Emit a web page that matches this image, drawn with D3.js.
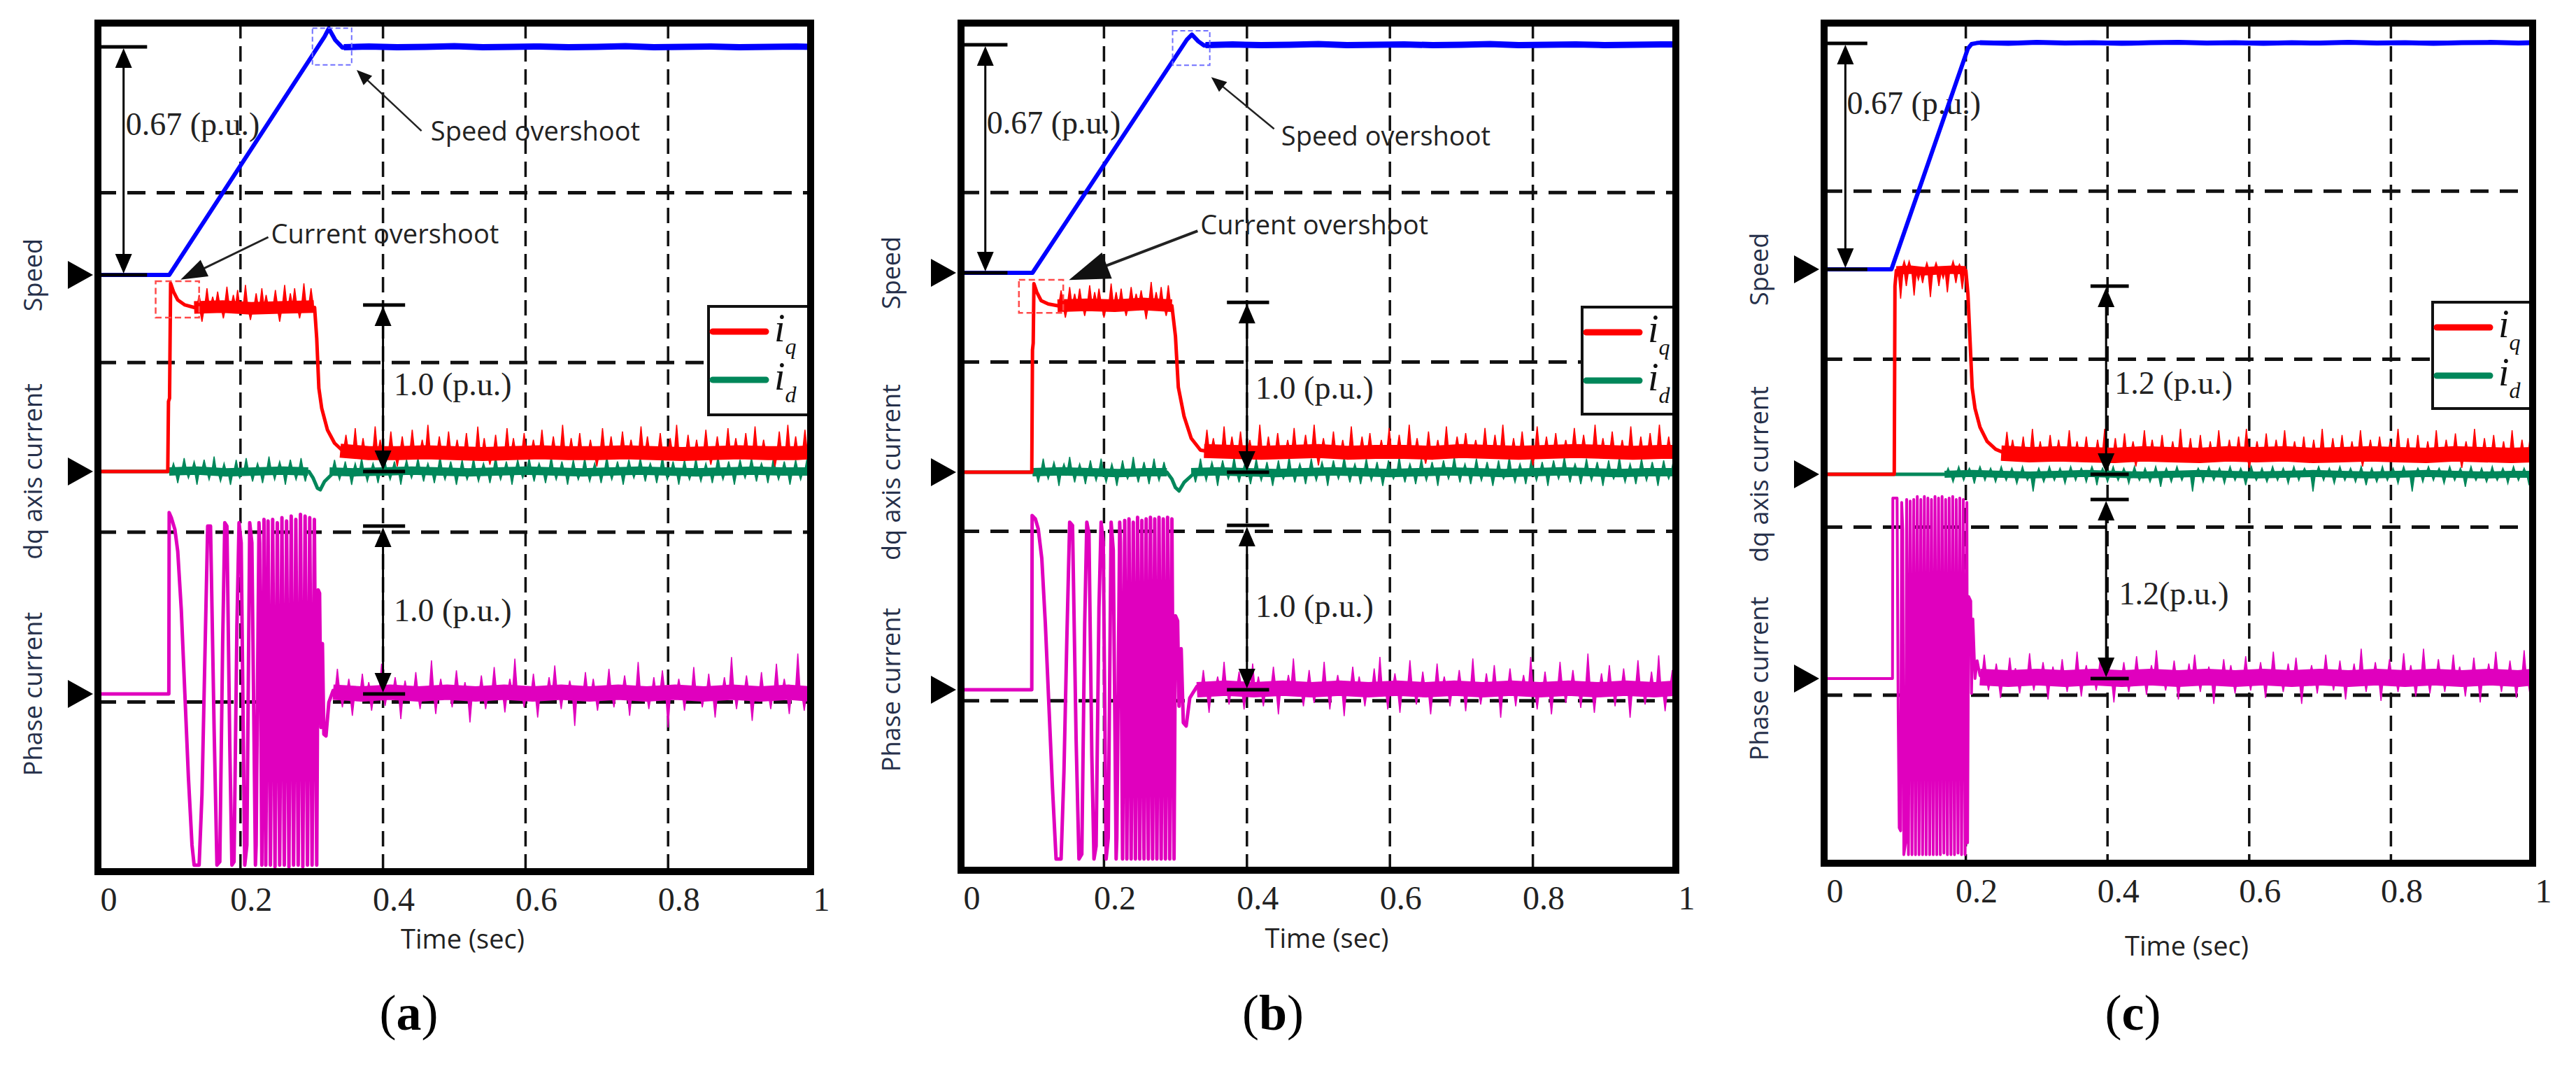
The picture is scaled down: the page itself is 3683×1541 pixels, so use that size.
<!DOCTYPE html>
<html lang="en">
<head>
<meta charset="UTF-8" />
<title>Speed, dq axis current and phase current</title>
<script src="https://cdn.jsdelivr.net/npm/d3@7"></script>
<style>
  html, body { margin: 0; padding: 0; background: #fff; }
  svg { display: block; }
</style>
</head>
<body>
<svg width="3683" height="1541"></svg>
<script>
// ---------- data (time in sec, values in p.u.) ----------
const timeTicks = [0, 0.2, 0.4, 0.6, 0.8, 1];
const timeTickLabels = ["0", "0.2", "0.4", "0.6", "0.8", "1"];
const gridTimes = [0.2, 0.4, 0.6, 0.8];
const gridDivs = [1, 2, 3, 4];
const channelNames = ["Speed", "dq axis current", "Phase current"];
const panelLetters = ["a", "b", "c"];
const legendNames = [["i", "q"], ["i", "d"]];
const dimTextA = ["0.67 (p.u.)", "1.0 (p.u.)", "1.0 (p.u.)"];
const dimTextB = ["0.67 (p.u.)", "1.0 (p.u.)", "1.0 (p.u.)"];
const dimTextC = ["0.67 (p.u.)", "1.2 (p.u.)", "1.2(p.u.)"];
const dimValuesA = [0.67, 1.0, 1.0];
const dimValuesB = [0.67, 1.0, 1.0];
const dimValuesC = [0.67, 1.2, 1.2];
const noteTexts = ["Speed overshoot", "Current overshoot"];

// ---- panel (a) ----
const speedA = [[0,0],[0.1,0],[0.318,0.70],[0.324,0.724],[0.333,0.69],[0.343,0.668],[0.36,0.67],[1,0.67]];
const speedBandA = [[0.345,0.669],[0.38,0.671],[0.42,0.669],[0.46,0.670],[0.50,0.672],[0.54,0.669],[0.58,0.670],[0.62,0.671],[0.66,0.669],[0.70,0.670],[0.74,0.672],[0.78,0.669],[0.82,0.670],[0.86,0.671],[0.90,0.669],[0.94,0.670],[0.98,0.671],[1.0,0.670]];
const iqA = [[0,0],[0.098,0],[0.099,0.42],[0.1005,0.44],[0.102,1.13],[0.106,1.08],[0.112,1.03],[0.122,1.0],[0.135,0.985],[0.304,0.985],[0.307,0.8],[0.31,0.5],[0.314,0.38],[0.322,0.25],[0.332,0.17],[0.342,0.13],[0.36,0.11],[1,0.11]];
const iqPlateauA = [[0.135,0.985],[0.175,0.99],[0.215,0.98],[0.255,0.985],[0.303,0.99]];
const iqSteadyA = [[0.34,0.125],[0.38,0.11],[0.42,0.11],[0.46,0.115],[0.50,0.11],[0.54,0.105],[0.58,0.11],[0.62,0.115],[0.66,0.11],[0.70,0.11],[0.74,0.115],[0.78,0.11],[0.82,0.105],[0.86,0.11],[0.90,0.115],[0.94,0.11],[0.98,0.11],[1.0,0.115]];
const iqSpikesA = [[0.142,1.06],[0.146,0.9],[0.153,1.1],[0.161,1.05],[0.168,1.08],[0.176,0.92],[0.181,1.11],[0.19,1.06],[0.196,1.09],[0.207,1.12],[0.214,0.91],[0.222,1.07],[0.23,1.1],[0.236,1.06],[0.249,1.09],[0.255,0.9],[0.262,1.12],[0.27,1.07],[0.276,1.1],[0.283,0.92],[0.289,1.13],[0.299,1.1],
  [0.348,0.22],[0.361,0.26],[0.372,0.2],[0.389,0.27],[0.396,0.19],[0.411,0.24],[0.42,0.03],[0.427,0.21],[0.441,0.25],[0.455,0.19],[0.463,0.28],[0.479,0.21],[0.492,0.24],[0.504,0.19],[0.517,0.23],[0.533,0.27],[0.542,0.2],[0.55,0.04],[0.558,0.22],[0.574,0.26],[0.583,0.2],[0.598,0.23],[0.611,0.19],[0.623,0.25],[0.639,0.21],[0.652,0.28],[0.664,0.2],[0.676,0.23],[0.691,0.19],[0.70,0.03],[0.708,0.26],[0.72,0.21],[0.736,0.24],[0.748,0.19],[0.762,0.27],[0.771,0.21],[0.789,0.23],[0.803,0.2],[0.812,0.28],[0.828,0.22],[0.84,0.19],[0.853,0.25],[0.86,0.04],[0.869,0.21],[0.884,0.26],[0.895,0.2],[0.909,0.23],[0.922,0.27],[0.934,0.19],[0.95,0.03],[0.956,0.24],[0.968,0.28],[0.979,0.21],[0.992,0.25]];
const idA = [[0,0],[0.1,0],[0.296,0],[0.302,-0.04],[0.308,-0.1],[0.312,-0.11],[0.318,-0.06],[0.33,-0.01],[1,0]];
const idBandA1 = [[0.1,0],[0.14,0.005],[0.18,-0.005],[0.22,0],[0.26,0.005],[0.295,0]];
const idBandA2 = [[0.325,0],[0.36,-0.005],[0.40,0],[0.44,0.005],[0.48,0],[0.52,-0.005],[0.56,0],[0.60,0.005],[0.64,0],[0.68,-0.005],[0.72,0],[0.76,0.005],[0.80,0],[0.84,-0.005],[0.88,0],[0.92,0.005],[0.96,0],[1.0,0]];
const idSpikesA = [[0.106,0.05],[0.112,-0.07],[0.121,0.08],[0.127,-0.04],[0.135,0.06],[0.139,-0.08],[0.149,0.07],[0.156,-0.05],[0.163,0.09],[0.172,-0.06],[0.177,0.05],[0.186,-0.08],[0.194,0.07],[0.199,-0.04],[0.208,0.08],[0.217,-0.06],[0.224,0.05],[0.231,-0.07],[0.24,0.09],[0.248,-0.05],[0.255,0.06],[0.263,-0.08],[0.27,0.07],[0.278,-0.05],[0.285,0.08],[0.291,-0.06],
  [0.332,0.07],[0.339,-0.05],[0.347,0.06],[0.356,-0.08],[0.361,0.05],[0.37,0.08],[0.378,-0.06],[0.386,0.05],[0.393,-0.07],[0.402,0.09],[0.41,-0.05],[0.416,0.06],[0.425,-0.08],[0.433,0.07],[0.44,-0.04],[0.449,0.08],[0.457,-0.06],[0.463,0.05],[0.472,-0.07],[0.48,0.09],[0.487,-0.05],[0.495,0.06],[0.503,-0.08],[0.511,0.07],[0.518,-0.05],[0.527,0.08],[0.534,-0.06],[0.541,0.05],[0.55,-0.07],[0.558,0.09],[0.565,-0.05],[0.573,0.06],[0.581,-0.08],[0.589,0.07],[0.596,-0.04],[0.605,0.08],[0.612,-0.06],[0.619,0.05],[0.628,-0.07],[0.636,0.09],[0.643,-0.05],[0.651,0.06],[0.659,-0.08],[0.667,0.07],[0.674,-0.05],[0.683,0.08],[0.69,-0.06],[0.697,0.05],[0.706,-0.07],[0.714,0.09],[0.721,-0.05],[0.729,0.06],[0.737,-0.08],[0.745,0.07],[0.752,-0.04],[0.761,0.08],[0.768,-0.06],[0.775,0.05],[0.784,-0.07],[0.792,0.09],[0.799,-0.05],[0.807,0.06],[0.815,-0.08],[0.823,0.07],[0.83,-0.05],[0.839,0.08],[0.846,-0.06],[0.853,0.05],[0.862,-0.07],[0.87,0.09],[0.877,-0.05],[0.885,0.06],[0.893,-0.08],[0.901,0.07],[0.908,-0.04],[0.917,0.08],[0.924,-0.06],[0.931,0.05],[0.94,-0.07],[0.948,0.09],[0.955,-0.05],[0.963,0.06],[0.971,-0.08],[0.979,0.07],[0.986,-0.05],[0.995,0.08]];
const phaseA = [[0,0],[0.0995,0],[0.1,1.08],[0.103,1.05],[0.108,0.98],[0.112,0.85],[0.117,0.5],[0.122,0.0],[0.127,-0.5],[0.132,-0.9],[0.135,-1.02],[0.142,-1.02],[0.146,-0.6],[0.150,0.2],[0.154,1.0],[0.158,1.0],[0.163,-0.2],[0.167,-1.02],[0.171,-1.0],[0.175,0.3],[0.178,1.02],[0.181,1.0],[0.185,-0.3],[0.188,-1.02],[0.191,-1.0],[0.195,0.4],[0.198,1.02],[0.201,0.9],[0.206,-1.02],[0.209,-0.9],[0.213,1.02],[0.216,0.9],[0.221,-1.02],[0.222,-0.9],[0.226,1.02],[0.227,0.9],[0.230,-1.02],[0.233,1.04],[0.2355,-1.02],[0.2387,1.03],[0.242,-1.02],[0.2452,1.04],[0.2485,-1.03],[0.2517,1.02],[0.255,-1.02],[0.2582,1.05],[0.2615,-1.02],[0.2647,1.03],[0.268,-1.03],[0.2712,1.06],[0.2745,-1.02],[0.2777,1.04],[0.281,-1.02],[0.2842,1.07],[0.2875,-1.03],[0.2907,1.06],[0.294,-1.02],[0.2972,1.05],[0.3005,-1.02],[0.3037,1.04],[0.307,-1.02],[0.309,0.62],[0.311,0.6],[0.313,-0.2],[0.315,0.3],[0.317,-0.24],[0.32,-0.25],[0.324,-0.05],[0.33,0.02],[0.34,0.0],[1,0]];
const phaseBandA = [[0.33,0.01],[0.37,0.0],[0.41,0.01],[0.45,0.0],[0.49,0.01],[0.53,0.0],[0.57,0.01],[0.61,0.0],[0.65,0.01],[0.69,0.0],[0.73,0.01],[0.77,0.0],[0.81,0.01],[0.85,0.0],[0.89,0.01],[0.93,0.0],[0.97,0.01],[1.0,0.0]];
const phaseSpikesA = [[0.336,0.15],[0.343,-0.08],[0.352,0.09],[0.357,-0.13],[0.371,0.12],[0.38,0.07],[0.384,-0.1],[0.398,0.18],[0.403,-0.07],[0.417,0.1],[0.425,-0.15],[0.431,0.08],[0.446,0.13],[0.452,-0.09],[0.468,0.2],[0.474,-0.12],[0.481,0.09],[0.497,-0.08],[0.503,0.14],[0.515,0.07],[0.522,-0.17],[0.538,0.11],[0.544,-0.09],[0.556,0.16],[0.571,-0.11],[0.578,0.09],[0.585,0.21],[0.598,-0.08],[0.611,0.12],[0.617,-0.14],[0.633,0.1],[0.641,0.17],[0.65,-0.09],[0.662,0.08],[0.669,-0.19],[0.684,0.13],[0.695,0.09],[0.701,-0.1],[0.717,0.15],[0.724,-0.08],[0.739,0.11],[0.746,-0.13],[0.758,0.19],[0.773,-0.09],[0.78,0.1],[0.792,0.14],[0.8,-0.2],[0.815,0.09],[0.823,-0.1],[0.836,0.16],[0.848,-0.08],[0.857,0.12],[0.866,-0.14],[0.879,0.1],[0.889,0.22],[0.896,-0.09],[0.91,0.11],[0.918,-0.16],[0.931,0.13],[0.944,-0.09],[0.952,0.18],[0.963,0.09],[0.97,-0.12],[0.982,0.24],[0.991,-0.1]];

// ---- panel (b) ----
const speedB = [[0,0],[0.1,0],[0.316,0.685],[0.323,0.70],[0.332,0.68],[0.34,0.668],[0.36,0.67],[1,0.67]];
const speedBandB = [[0.342,0.669],[0.38,0.671],[0.42,0.669],[0.46,0.670],[0.50,0.672],[0.54,0.669],[0.58,0.670],[0.62,0.671],[0.66,0.669],[0.70,0.670],[0.74,0.672],[0.78,0.669],[0.82,0.670],[0.86,0.671],[0.90,0.669],[0.94,0.670],[0.98,0.671],[1.0,0.671]];
const iqB = [[0,0],[0.099,0],[0.1,0.72],[0.101,0.76],[0.102,1.11],[0.106,1.06],[0.112,1.01],[0.122,0.99],[0.135,0.98],[0.295,0.98],[0.3,0.8],[0.304,0.5],[0.312,0.33],[0.322,0.2],[0.335,0.13],[0.35,0.12],[1,0.12]];
const iqPlateauB = [[0.135,0.98],[0.175,0.985],[0.215,0.98],[0.255,0.99],[0.295,0.98]];
const iqSteadyB = [[0.34,0.125],[0.38,0.12],[0.42,0.115],[0.46,0.12],[0.50,0.125],[0.54,0.115],[0.58,0.12],[0.62,0.12],[0.66,0.115],[0.70,0.125],[0.74,0.12],[0.78,0.115],[0.82,0.12],[0.86,0.125],[0.90,0.12],[0.94,0.115],[0.98,0.12],[1.0,0.12]];
const iqSpikesB = [[0.14,1.07],[0.146,0.91],[0.152,1.09],[0.159,1.05],[0.166,1.08],[0.173,0.92],[0.18,1.1],[0.187,1.06],[0.193,1.08],[0.2,0.91],[0.21,1.11],[0.217,1.06],[0.224,1.08],[0.231,0.92],[0.238,1.09],[0.245,1.05],[0.252,1.07],[0.259,0.9],[0.266,1.12],[0.273,1.06],[0.28,1.09],[0.287,0.92],[0.29,1.1],
  [0.344,0.25],[0.353,0.2],[0.368,0.27],[0.379,0.21],[0.391,0.24],[0.404,0.19],[0.418,0.28],[0.43,0.21],[0.443,0.23],[0.457,0.19],[0.466,0.26],[0.482,0.22],[0.494,0.28],[0.50,0.04],[0.507,0.2],[0.521,0.24],[0.534,0.19],[0.546,0.27],[0.561,0.21],[0.572,0.23],[0.588,0.19],[0.599,0.26],[0.613,0.22],[0.627,0.28],[0.638,0.2],[0.65,0.05],[0.654,0.24],[0.667,0.19],[0.679,0.27],[0.694,0.21],[0.706,0.23],[0.72,0.19],[0.733,0.26],[0.747,0.22],[0.758,0.28],[0.773,0.2],[0.785,0.24],[0.80,0.04],[0.806,0.27],[0.819,0.21],[0.832,0.23],[0.846,0.19],[0.858,0.26],[0.871,0.22],[0.887,0.28],[0.898,0.2],[0.911,0.24],[0.925,0.19],[0.937,0.27],[0.951,0.21],[0.964,0.23],[0.977,0.28],[0.99,0.21]];
const idB = [[0,0],[0.1,0],[0.288,0],[0.295,-0.04],[0.3,-0.09],[0.305,-0.11],[0.312,-0.06],[0.325,-0.01],[1,0]];
const idBandB1 = [[0.1,0],[0.14,0.005],[0.18,0],[0.22,-0.005],[0.26,0],[0.288,0]];
const idBandB2 = [[0.322,0],[0.36,0.005],[0.40,0],[0.44,-0.005],[0.48,0],[0.52,0.005],[0.56,0],[0.60,-0.005],[0.64,0],[0.68,0.005],[0.72,0],[0.76,-0.005],[0.80,0],[0.84,0.005],[0.88,0],[0.92,-0.005],[0.96,0],[1.0,0]];
const idSpikesB = [[0.108,-0.06],[0.115,0.08],[0.122,-0.04],[0.13,0.06],[0.137,-0.08],[0.144,0.05],[0.152,0.09],[0.159,-0.06],[0.166,0.05],[0.174,-0.07],[0.181,0.07],[0.189,-0.05],[0.196,0.08],[0.203,-0.06],[0.211,0.05],[0.218,-0.08],[0.226,0.07],[0.233,-0.04],[0.241,0.09],[0.248,-0.06],[0.256,0.06],[0.263,-0.07],[0.27,0.08],[0.277,-0.05],[0.284,0.06],
  [0.328,-0.06],[0.335,0.08],[0.343,-0.05],[0.351,0.06],[0.359,-0.08],[0.366,0.07],[0.374,-0.04],[0.382,0.09],[0.389,-0.06],[0.397,0.05],[0.405,-0.07],[0.413,0.08],[0.42,-0.05],[0.428,0.06],[0.436,-0.08],[0.444,0.07],[0.451,-0.04],[0.459,0.09],[0.467,-0.06],[0.474,0.05],[0.482,-0.07],[0.49,0.08],[0.497,-0.05],[0.505,0.06],[0.513,-0.08],[0.521,0.07],[0.528,-0.04],[0.536,0.09],[0.544,-0.06],[0.551,0.05],[0.559,-0.07],[0.567,0.08],[0.574,-0.05],[0.582,0.06],[0.59,-0.08],[0.598,0.07],[0.605,-0.04],[0.613,0.09],[0.621,-0.06],[0.628,0.05],[0.636,-0.07],[0.644,0.08],[0.651,-0.05],[0.659,0.06],[0.667,-0.08],[0.675,0.07],[0.682,-0.04],[0.69,0.09],[0.698,-0.06],[0.705,0.05],[0.713,-0.07],[0.721,0.08],[0.728,-0.05],[0.736,0.06],[0.744,-0.08],[0.752,0.07],[0.759,-0.04],[0.767,0.09],[0.775,-0.06],[0.782,0.05],[0.79,-0.07],[0.798,0.08],[0.805,-0.05],[0.813,0.06],[0.821,-0.08],[0.829,0.07],[0.836,-0.04],[0.844,0.09],[0.852,-0.06],[0.859,0.05],[0.867,-0.07],[0.875,0.08],[0.882,-0.05],[0.89,0.06],[0.898,-0.08],[0.906,0.07],[0.913,-0.04],[0.921,0.09],[0.929,-0.06],[0.936,0.05],[0.944,-0.07],[0.952,0.08],[0.959,-0.05],[0.967,0.06],[0.975,-0.08],[0.983,0.07],[0.99,-0.04],[0.997,0.08]];
const phaseB = [[0,0],[0.099,0],[0.0995,1.06],[0.104,1.04],[0.108,0.98],[0.113,0.8],[0.118,0.4],[0.123,-0.1],[0.128,-0.6],[0.133,-1.03],[0.14,-1.03],[0.144,-0.5],[0.148,0.3],[0.152,1.02],[0.156,1.0],[0.161,-0.3],[0.165,-1.03],[0.169,-1.0],[0.173,0.4],[0.176,1.02],[0.179,0.95],[0.183,-0.4],[0.186,-1.03],[0.189,-0.95],[0.193,0.5],[0.196,1.02],[0.199,0.9],[0.203,-1.03],[0.206,-0.9],[0.21,1.02],[0.213,0.85],[0.217,-1.03],[0.218,-0.9],[0.222,1.02],[0.223,0.9],[0.226,-1.03],[0.229,1.03],[0.232,-1.03],[0.235,1.04],[0.238,-1.03],[0.241,1.02],[0.244,-1.03],[0.247,1.05],[0.25,-1.03],[0.253,1.03],[0.256,-1.03],[0.259,1.04],[0.262,-1.03],[0.265,1.05],[0.268,-1.03],[0.271,1.04],[0.274,-1.03],[0.277,1.05],[0.28,-1.03],[0.283,1.04],[0.286,-1.03],[0.289,1.05],[0.292,-1.03],[0.295,1.04],[0.298,-1.03],[0.3,0.45],[0.303,0.42],[0.305,-0.1],[0.308,0.25],[0.311,-0.2],[0.315,-0.22],[0.32,-0.05],[0.33,0.02],[0.34,0.0],[1,0]];
const phaseBandB = [[0.33,0.0],[0.37,0.01],[0.41,0.0],[0.45,0.01],[0.49,0.0],[0.53,0.01],[0.57,0.0],[0.61,0.01],[0.65,0.0],[0.69,0.01],[0.73,0.0],[0.77,0.01],[0.81,0.0],[0.85,0.01],[0.89,0.0],[0.93,0.01],[0.97,0.0],[1.0,0.01]];
const phaseSpikesB = [[0.339,0.12],[0.347,-0.14],[0.359,0.08],[0.368,0.17],[0.375,-0.09],[0.389,0.11],[0.396,-0.12],[0.408,0.16],[0.416,0.08],[0.423,-0.1],[0.437,0.14],[0.444,-0.15],[0.458,0.09],[0.465,0.19],[0.479,-0.1],[0.487,0.12],[0.494,-0.08],[0.508,0.17],[0.516,-0.12],[0.527,0.09],[0.536,-0.16],[0.548,0.14],[0.557,0.08],[0.565,-0.1],[0.578,0.13],[0.586,0.2],[0.597,-0.12],[0.607,0.1],[0.614,-0.14],[0.628,0.18],[0.637,-0.09],[0.646,0.11],[0.657,-0.15],[0.666,0.16],[0.676,0.08],[0.684,-0.1],[0.697,0.12],[0.706,-0.13],[0.716,0.19],[0.727,-0.09],[0.735,0.1],[0.746,0.15],[0.755,-0.17],[0.768,0.13],[0.776,-0.1],[0.787,0.09],[0.797,0.2],[0.806,-0.12],[0.817,0.11],[0.826,-0.15],[0.838,0.17],[0.846,-0.08],[0.856,0.12],[0.867,-0.11],[0.877,0.22],[0.886,-0.14],[0.896,0.1],[0.907,0.15],[0.915,-0.1],[0.927,0.13],[0.936,-0.17],[0.947,0.18],[0.957,-0.09],[0.966,0.11],[0.976,0.21],[0.985,-0.13],[0.995,0.12]];

// ---- panel (c) ----
const speedC = [[0,0],[0.095,0],[0.203,0.655],[0.208,0.668],[0.215,0.671],[0.22,0.672],[1,0.672]];
const speedBandC = [[0.22,0.672],[0.26,0.670],[0.30,0.673],[0.34,0.671],[0.38,0.672],[0.42,0.670],[0.46,0.672],[0.50,0.673],[0.54,0.671],[0.58,0.672],[0.62,0.670],[0.66,0.672],[0.70,0.671],[0.74,0.673],[0.78,0.671],[0.82,0.672],[0.86,0.670],[0.90,0.672],[0.94,0.673],[0.98,0.671],[1.0,0.672]];
const iqC = [[0,0],[0.099,0],[0.1,1.2],[0.102,1.3],[0.2,1.3],[0.203,1.15],[0.206,0.85],[0.209,0.55],[0.213,0.42],[0.22,0.3],[0.23,0.21],[0.242,0.16],[0.255,0.135],[1,0.13]];
const iqPlateauC = [[0.102,1.3],[0.122,1.305],[0.142,1.295],[0.162,1.3],[0.182,1.305],[0.2,1.3]];
const iqSteadyC = [[0.25,0.135],[0.29,0.125],[0.33,0.13],[0.37,0.125],[0.41,0.12],[0.45,0.13],[0.49,0.125],[0.53,0.12],[0.57,0.13],[0.61,0.125],[0.65,0.13],[0.69,0.12],[0.73,0.125],[0.77,0.13],[0.81,0.125],[0.85,0.12],[0.89,0.13],[0.93,0.125],[0.97,0.12],[1.0,0.125]];
const iqSpikesC = [[0.106,1.24],[0.108,1.12],[0.113,1.36],[0.116,1.2],[0.12,1.36],[0.127,1.14],[0.133,1.24],[0.139,1.22],[0.145,1.35],[0.15,1.13],[0.158,1.35],[0.162,1.2],[0.168,1.25],[0.174,1.16],[0.182,1.36],[0.186,1.22],[0.191,1.34],[0.195,1.18],
  [0.258,0.27],[0.266,0.22],[0.281,0.24],[0.294,0.29],[0.305,0.21],[0.319,0.25],[0.331,0.22],[0.346,0.28],[0.357,0.21],[0.37,0.24],[0.386,0.22],[0.396,0.29],[0.411,0.23],[0.424,0.26],[0.44,0.05],[0.436,0.21],[0.452,0.28],[0.463,0.22],[0.477,0.25],[0.492,0.21],[0.503,0.29],[0.517,0.23],[0.531,0.25],[0.545,0.21],[0.557,0.28],[0.572,0.22],[0.585,0.24],[0.6,0.04],[0.596,0.29],[0.611,0.21],[0.624,0.26],[0.638,0.22],[0.65,0.28],[0.664,0.21],[0.677,0.24],[0.691,0.22],[0.703,0.29],[0.718,0.23],[0.731,0.25],[0.745,0.21],[0.757,0.28],[0.76,0.05],[0.771,0.22],[0.784,0.24],[0.799,0.21],[0.81,0.29],[0.824,0.23],[0.838,0.25],[0.852,0.21],[0.864,0.28],[0.878,0.22],[0.891,0.26],[0.9,0.04],[0.906,0.21],[0.918,0.29],[0.932,0.23],[0.945,0.25],[0.959,0.21],[0.971,0.28],[0.985,0.22],[0.997,0.26]];
const idC = [[0,0],[0.17,0],[1,0]];
const idBandC = [[0.17,0],[0.21,0.005],[0.25,0],[0.29,-0.005],[0.33,0],[0.37,0.005],[0.41,0],[0.45,-0.005],[0.49,0],[0.53,0.005],[0.57,0],[0.61,-0.005],[0.65,0],[0.69,0.005],[0.73,0],[0.77,-0.005],[0.81,0],[0.85,0.005],[0.89,0],[0.93,-0.005],[0.97,0],[1.0,0]];
const idSpikesC = [[0.175,0.04],[0.182,-0.05],[0.19,0.05],[0.197,-0.04],[0.205,0.04],[0.212,-0.06],[0.22,0.05],[0.227,-0.04],[0.235,0.04],[0.242,-0.05],[0.25,0.05],[0.257,-0.04],[0.265,0.04],[0.272,-0.06],[0.28,0.05],[0.287,-0.04],[0.295,-0.11],[0.303,0.04],[0.31,-0.05],[0.318,0.05],[0.325,-0.04],[0.333,0.04],[0.34,-0.06],[0.348,0.05],[0.355,-0.04],[0.363,0.04],[0.37,-0.05],[0.378,0.05],[0.385,-0.07],[0.393,0.04],[0.4,-0.05],[0.408,0.05],[0.415,-0.04],[0.423,0.04],[0.43,-0.06],[0.438,0.05],[0.445,-0.04],[0.453,0.04],[0.46,-0.05],[0.468,0.05],[0.475,-0.08],[0.483,0.04],[0.49,-0.05],[0.498,0.05],[0.505,-0.04],[0.52,-0.11],[0.528,0.04],[0.535,-0.05],[0.543,0.05],[0.55,-0.04],[0.558,0.04],[0.565,-0.06],[0.573,0.05],[0.58,-0.04],[0.588,0.04],[0.595,-0.07],[0.603,0.05],[0.61,-0.04],[0.618,0.04],[0.625,-0.05],[0.633,0.05],[0.64,-0.04],[0.648,0.04],[0.655,-0.06],[0.663,0.05],[0.67,-0.04],[0.678,0.04],[0.69,-0.11],[0.698,0.05],[0.705,-0.04],[0.713,0.04],[0.72,-0.06],[0.728,0.05],[0.735,-0.04],[0.743,0.04],[0.75,-0.05],[0.758,0.05],[0.765,-0.07],[0.773,0.04],[0.78,-0.05],[0.788,0.05],[0.795,-0.04],[0.803,0.04],[0.81,-0.06],[0.818,0.05],[0.83,-0.11],[0.838,0.04],[0.845,-0.05],[0.853,0.05],[0.86,-0.04],[0.868,0.04],[0.875,-0.06],[0.883,0.05],[0.89,-0.04],[0.898,0.04],[0.905,-0.08],[0.913,0.05],[0.92,-0.04],[0.928,0.04],[0.935,-0.05],[0.943,0.05],[0.95,-0.04],[0.958,0.04],[0.965,-0.06],[0.973,0.05],[0.98,-0.04],[0.988,0.04],[0.995,-0.07]];
const phaseC = [[0,0],[0.0965,0],[0.097,1.21],[0.103,1.21],[0.1045,-0.2],[0.106,-1.0],[0.108,-1.02],[0.1095,1.18],[0.111,1.0],[0.1125,-1.18],[0.115,-1.1],[0.1165,1.2],[0.119,-1.18],[0.1215,1.19],[0.124,-1.18],[0.1265,1.2],[0.129,-1.18],[0.1315,1.22],[0.134,-1.18],[0.1365,1.2],[0.139,-1.18],[0.1415,1.22],[0.144,-1.18],[0.1465,1.21],[0.149,-1.18],[0.1515,1.2],[0.154,-1.18],[0.1565,1.22],[0.159,-1.18],[0.1615,1.21],[0.164,-1.18],[0.1665,1.22],[0.169,-1.17],[0.1715,1.2],[0.174,-1.18],[0.1765,1.21],[0.179,-1.18],[0.1815,1.22],[0.184,-1.18],[0.1865,1.2],[0.189,-1.17],[0.1915,1.21],[0.194,-1.18],[0.1965,1.2],[0.199,-1.18],[0.2015,1.18],[0.2025,-1.1],[0.204,0.55],[0.207,0.52],[0.208,-0.1],[0.21,0.4],[0.213,0.0],[0.216,0.12],[0.22,0.02],[0.225,0.0],[1,0]];
const phaseBandC = [[0.22,0.01],[0.26,0.0],[0.30,0.01],[0.34,0.0],[0.38,0.01],[0.42,0.0],[0.46,0.01],[0.50,0.0],[0.54,0.01],[0.58,0.0],[0.62,0.01],[0.66,0.0],[0.70,0.01],[0.74,0.0],[0.78,0.01],[0.82,0.0],[0.86,0.01],[0.90,0.0],[0.94,0.01],[0.98,0.0],[1.0,0.01]];
const phaseSpikesC = [[0.226,0.16],[0.232,-0.08],[0.243,0.1],[0.249,-0.13],[0.262,0.14],[0.27,0.07],[0.276,-0.1],[0.29,0.17],[0.296,-0.08],[0.309,0.11],[0.316,-0.14],[0.323,0.08],[0.336,0.13],[0.343,-0.09],[0.357,0.18],[0.363,-0.12],[0.37,0.09],[0.384,-0.08],[0.39,0.14],[0.402,0.07],[0.409,-0.16],[0.423,0.11],[0.43,-0.09],[0.441,0.15],[0.455,-0.11],[0.462,0.09],[0.469,0.19],[0.482,-0.08],[0.494,0.12],[0.5,-0.14],[0.515,0.1],[0.523,0.16],[0.531,-0.09],[0.543,0.08],[0.55,-0.17],[0.564,0.13],[0.574,0.09],[0.58,-0.1],[0.595,0.15],[0.602,-0.08],[0.616,0.11],[0.623,-0.13],[0.634,0.18],[0.648,-0.09],[0.655,0.1],[0.666,0.14],[0.674,-0.17],[0.688,0.09],[0.696,-0.1],[0.708,0.16],[0.719,-0.08],[0.728,0.12],[0.736,-0.14],[0.748,0.1],[0.758,0.2],[0.765,-0.09],[0.778,0.11],[0.786,-0.15],[0.798,0.13],[0.81,-0.09],[0.818,0.17],[0.828,0.09],[0.835,-0.12],[0.846,0.2],[0.855,-0.1],[0.867,0.13],[0.876,-0.09],[0.888,0.16],[0.897,0.08],[0.905,-0.12],[0.917,0.14],[0.926,-0.16],[0.938,0.1],[0.948,0.18],[0.956,-0.09],[0.968,0.12],[0.977,-0.13],[0.988,0.19],[0.996,-0.1]];

// ---------- layout ----------
const BLUE = "#0000ff", RED = "#ff0000", GREEN = "#00875a", MAGENTA = "#e000be";
const SERIF = "'Liberation Serif', 'Times New Roman', serif";
const SANS = "'Open Sans', 'Noto Sans', sans-serif";

const panels = [
  { key: "a", left: 140, right: 1159, top: 33, bottom: 1246, titleY: 1356, labelDx: -93,
    ch: [{ zero: 3.516, gain: 2.006 }, { zero: 2.358, gain: 0.981 }, { zero: 1.047, gain: 0.989 }],
    traces: [
      { ch: 0, color: BLUE, w: 6, pts: speedA, bands: [[speedBandA, 9]], spikes: [] },
      { ch: 1, color: GREEN, w: 5, pts: idA, bands: [[idBandA1, 12], [idBandA2, 12]], spikes: idSpikesA },
      { ch: 1, color: RED, w: 5, pts: iqA, bands: [[iqPlateauA, 18], [iqSteadyA, 20]], spikes: iqSpikesA },
      { ch: 2, color: MAGENTA, w: 5, pts: phaseA, bands: [[phaseBandA, 22]], spikes: phaseSpikesA }
    ],
    dims: [
      { ch: 0, t: 0.036, bar: [0.004, 0.069], tt: 0.039, tv: 0.411 },
      { ch: 1, t: 0.4, bar: [0.372, 0.431], tt: 0.415, tv: 0.458 },
      { ch: 2, t: 0.4, bar: [0.372, 0.431], tt: 0.415, tv: 0.432 }
    ],
    dimText: dimTextA, dimValues: dimValuesA,
    notes: [
      { tt: 0.467, tv: 0.395, from: [0.454, 0.423], to: [0.363, 0.602], head: [22, 9], sw: 2.5 },
      { tt: 0.243, tv: 0.092, from: [0.239, 0.111], to: [0.116, -0.014], head: [38, 13], sw: 3 }
    ],
    blueBox: { t: [0.301, 0.356], v: [0.617, 0.725] },
    redBox: { t: [0.081, 0.142], v: [0.924, 1.143] },
    legend: { w: 146, off: 405, h: 155 }
  },
  { key: "b", left: 1374, right: 2396, top: 33, bottom: 1244, titleY: 1355, labelDx: -100,
    ch: [{ zero: 3.526, gain: 2.009 }, { zero: 2.349, gain: 1.003 }, { zero: 1.065, gain: 0.970 }],
    traces: [
      { ch: 0, color: BLUE, w: 6, pts: speedB, bands: [[speedBandB, 9]], spikes: [] },
      { ch: 1, color: GREEN, w: 5, pts: idB, bands: [[idBandB1, 12], [idBandB2, 12]], spikes: idSpikesB },
      { ch: 1, color: RED, w: 5, pts: iqB, bands: [[iqPlateauB, 18], [iqSteadyB, 20]], spikes: iqSpikesB },
      { ch: 2, color: MAGENTA, w: 5, pts: phaseB, bands: [[phaseBandB, 22]], spikes: phaseSpikesB }
    ],
    dims: [
      { ch: 0, t: 0.034, bar: [0.001, 0.065], tt: 0.036, tv: 0.41 },
      { ch: 1, t: 0.4, bar: [0.372, 0.431], tt: 0.412, tv: 0.432 },
      { ch: 2, t: 0.4, bar: [0.372, 0.431], tt: 0.412, tv: 0.443 }
    ],
    dimText: dimTextB, dimValues: dimValuesB,
    notes: [
      { tt: 0.448, tv: 0.374, from: [0.438, 0.423], to: [0.35, 0.575], head: [22, 9], sw: 2.5 },
      { tt: 0.335, tv: 0.113, from: [0.331, 0.123], to: [0.151, -0.021], head: [58, 20], sw: 4 }
    ],
    blueBox: { t: [0.296, 0.348], v: [0.61, 0.711] },
    redBox: { t: [0.081, 0.143], v: [0.938, 1.132] },
    legend: { w: 134, off: 406, h: 153 }
  },
  { key: "c", left: 2608, right: 3621, top: 33, bottom: 1234, titleY: 1366, labelDx: -93,
    ch: [{ zero: 3.535, gain: 2.006 }, { zero: 2.315, gain: 0.933 }, { zero: 1.099, gain: 0.888 }],
    traces: [
      { ch: 0, color: BLUE, w: 6, pts: speedC, bands: [[speedBandC, 7]], spikes: [] },
      { ch: 1, color: GREEN, w: 5, pts: idC, bands: [[idBandC, 10]], spikes: idSpikesC },
      { ch: 1, color: RED, w: 5, pts: iqC, bands: [[iqPlateauC, 12], [iqSteadyC, 22]], spikes: iqSpikesC },
      { ch: 2, color: MAGENTA, w: 4, pts: phaseC, bands: [[phaseBandC, 24]], spikes: phaseSpikesC }
    ],
    dims: [
      { ch: 0, t: 0.03, bar: [0.004, 0.061], tt: 0.032, tv: 0.461 },
      { ch: 1, t: 0.398, bar: [0.376, 0.43], tt: 0.41, tv: 0.513 },
      { ch: 2, t: 0.398, bar: [0.376, 0.43], tt: 0.416, tv: 0.497 }
    ],
    dimText: dimTextC, dimValues: dimValuesC,
    notes: [],
    blueBox: null, redBox: null,
    legend: { w: 143, off: 399, h: 152 }
  }
];

// ---------- drawing ----------
const svg = d3.select("svg");
const defs = svg.append("defs");

function headPoints(tip, from, len, hw) {
  const dx = tip[0] - from[0], dy = tip[1] - from[1];
  const L = Math.hypot(dx, dy), ux = dx / L, uy = dy / L;
  const bx = tip[0] - ux * len, by = tip[1] - uy * len;
  return [tip, [bx - uy * hw, by + ux * hw], [bx + uy * hw, by - ux * hw]];
}

panels.forEach((p, pi) => {
  const x = d3.scaleLinear().domain([0, 1]).range([p.left, p.right]);
  const yDiv = d3.scaleLinear().domain([0, 5]).range([p.bottom, p.top]);
  const ys = p.ch.map(c => d3.scaleLinear().domain([0, 1]).range([yDiv(c.zero), yDiv(c.zero + c.gain)]));
  const g = svg.append("g").attr("class", "panel-" + p.key);

  defs.append("clipPath").attr("id", "clip-" + p.key).append("rect")
    .attr("x", p.left).attr("y", p.top)
    .attr("width", p.right - p.left).attr("height", p.bottom - p.top);

  // dashed grid
  g.append("g").selectAll("line").data(gridDivs).enter().append("line")
    .attr("x1", p.left).attr("x2", p.right)
    .attr("y1", d => yDiv(d)).attr("y2", d => yDiv(d))
    .attr("stroke", "#111").attr("stroke-width", 5).attr("stroke-dasharray", "26 16");
  g.append("g").selectAll("line").data(gridTimes).enter().append("line")
    .attr("x1", d => x(d)).attr("x2", d => x(d))
    .attr("y1", p.top).attr("y2", p.bottom)
    .attr("stroke", "#111").attr("stroke-width", 3.5).attr("stroke-dasharray", "22 11");

  // annotation texts sit behind the traces
  p.dims.forEach((d, i) => {
    g.append("text").attr("x", x(d.tt)).attr("y", ys[d.ch](d.tv))
      .attr("font-family", SERIF).attr("font-size", 46).attr("fill", "#222")
      .text(p.dimText[i]);
  });
  p.notes.forEach((n, i) => {
    g.append("text").attr("x", x(n.tt)).attr("y", ys[0](n.tv))
      .attr("font-family", SANS).attr("font-size", 38).attr("fill", "#222")
      .text(noteTexts[i]);
  });

  // traces
  const tg = g.append("g").attr("clip-path", "url(#clip-" + p.key + ")");
  p.traces.forEach(tr => {
    const yS = ys[tr.ch];
    const line = d3.line().x(d => x(d[0])).y(d => yS(d[1]));
    tr.bands.forEach(([band, w]) => {
      tg.append("path").attr("d", line(band)).attr("fill", "none")
        .attr("stroke", tr.color).attr("stroke-width", w).attr("stroke-linejoin", "round");
    });
    tr.spikes.forEach(([t, v]) => {
      const band = tr.bands.map(b => b[0]).find(b => t >= b[0][0] && t <= b[b.length - 1][0]);
      const base = band ? d3.least(band, q => Math.abs(q[0] - t))[1] : 0;
      const xs = x(t), yb = yS(base), yt = yS(v);
      tg.append("path")
        .attr("d", `M${xs - 3.5},${yb}L${xs},${yt}L${xs + 3.5},${yb}Z`)
        .attr("fill", tr.color).attr("stroke", tr.color).attr("stroke-width", 1.5);
    });
    tg.append("path").attr("d", line(tr.pts)).attr("fill", "none")
      .attr("stroke", tr.color).attr("stroke-width", tr.w)
      .attr("stroke-linejoin", "round").attr("stroke-linecap", "round");
  });

  // dashed highlight boxes
  if (p.blueBox) {
    g.append("rect").attr("x", x(p.blueBox.t[0])).attr("y", ys[0](p.blueBox.v[1]))
      .attr("width", x(p.blueBox.t[1]) - x(p.blueBox.t[0]))
      .attr("height", ys[0](p.blueBox.v[0]) - ys[0](p.blueBox.v[1]))
      .attr("fill", "none").attr("stroke", "#7070ff").attr("stroke-width", 2).attr("stroke-dasharray", "7 4");
  }
  if (p.redBox) {
    g.append("rect").attr("x", x(p.redBox.t[0])).attr("y", ys[1](p.redBox.v[1]))
      .attr("width", x(p.redBox.t[1]) - x(p.redBox.t[0]))
      .attr("height", ys[1](p.redBox.v[0]) - ys[1](p.redBox.v[1]))
      .attr("fill", "none").attr("stroke", "#ff4a4a").attr("stroke-width", 2.5).attr("stroke-dasharray", "9 5");
  }

  // overshoot arrows
  p.notes.forEach(n => {
    const from = [x(n.from[0]), ys[0](n.from[1])];
    const tip = [x(n.to[0]), ys[0](n.to[1])];
    const pts = headPoints(tip, from, n.head[0], n.head[1]);
    const dx = tip[0] - from[0], dy = tip[1] - from[1], L = Math.hypot(dx, dy);
    g.append("line").attr("x1", from[0]).attr("y1", from[1])
      .attr("x2", tip[0] - dx / L * n.head[0] * 0.8).attr("y2", tip[1] - dy / L * n.head[0] * 0.8)
      .attr("stroke", "#222").attr("stroke-width", n.sw);
    g.append("polygon").attr("points", pts.map(q => q.join(",")).join(" ")).attr("fill", "#111");
  });

  // dimension arrows
  p.dims.forEach((d, i) => {
    const yS = ys[d.ch], xa = x(d.t);
    const yLo = yS(0), yHi = yS(p.dimValues[i]);
    [0, p.dimValues[i]].forEach(v => {
      g.append("line").attr("x1", x(d.bar[0])).attr("x2", x(d.bar[1]))
        .attr("y1", yS(v)).attr("y2", yS(v))
        .attr("stroke", "#000").attr("stroke-width", 5);
    });
    g.append("line").attr("x1", xa).attr("x2", xa).attr("y1", yHi + 20).attr("y2", yLo - 20)
      .attr("stroke", "#000").attr("stroke-width", 3);
    [headPoints([xa, yHi + 2], [xa, yLo], 28, 12), headPoints([xa, yLo - 2], [xa, yHi], 28, 12)]
      .forEach(pts => g.append("polygon").attr("points", pts.map(q => q.join(",")).join(" ")).attr("fill", "#000"));
  });

  // legend
  const lx = p.right - p.legend.w, ly = p.top + p.legend.off;
  const lg = g.append("g");
  lg.append("rect").attr("x", lx).attr("y", ly).attr("width", p.legend.w).attr("height", p.legend.h)
    .attr("fill", "#fff").attr("stroke", "#111").attr("stroke-width", 4);
  [RED, GREEN].forEach((c, i) => {
    const yy = ly + 36 + i * 69;
    lg.append("line").attr("x1", lx + 6).attr("x2", lx + 82).attr("y1", yy).attr("y2", yy)
      .attr("stroke", c).attr("stroke-width", 9).attr("stroke-linecap", "round");
    const tx = lg.append("text").attr("x", lx + 94).attr("y", yy + 14)
      .attr("font-family", SERIF).attr("font-style", "italic").attr("font-size", 56).attr("fill", "#111")
      .text(legendNames[i][0]);
    tx.append("tspan").attr("dy", 18).attr("font-size", 32).text(legendNames[i][1]);
  });

  // frame
  g.append("rect").attr("x", p.left).attr("y", p.top)
    .attr("width", p.right - p.left).attr("height", p.bottom - p.top)
    .attr("fill", "none").attr("stroke", "#000").attr("stroke-width", 10);

  // channel markers and names
  p.ch.forEach((c, i) => {
    const y0 = ys[i](0);
    g.append("polygon")
      .attr("points", `${p.left - 7},${y0} ${p.left - 43},${y0 - 20} ${p.left - 43},${y0 + 20}`)
      .attr("fill", "#000");
    g.append("text").attr("transform", `translate(${p.left + p.labelDx},${y0}) rotate(-90)`)
      .attr("text-anchor", "middle").attr("dy", "0.35em")
      .attr("font-family", SANS).attr("font-size", 36).attr("fill", "#26304a")
      .text(channelNames[i]);
  });

  // time axis labels
  const axis = d3.axisBottom(x).tickValues(timeTicks)
    .tickFormat((d, i) => timeTickLabels[i]).tickSize(0);
  const ag = g.append("g").attr("transform", `translate(0,${p.bottom + 56})`).call(axis);
  ag.select(".domain").remove();
  ag.selectAll("text").attr("y", 0).attr("dy", 0).attr("dx", 15)
    .attr("font-family", SERIF).attr("font-size", 48).attr("fill", "#222");

  const cx = (p.left + p.right) / 2;
  g.append("text").attr("x", cx + 12).attr("y", p.titleY).attr("text-anchor", "middle")
    .attr("font-family", SANS).attr("font-size", 38).attr("fill", "#222").text("Time (sec)");
  const pl = g.append("text").attr("x", cx - 65).attr("y", 1472).attr("text-anchor", "middle")
    .attr("font-family", SERIF).attr("font-size", 72).attr("fill", "#000");
  pl.append("tspan").text("(");
  pl.append("tspan").attr("font-weight", "bold").text(panelLetters[pi]);
  pl.append("tspan").text(")");
});
</script>
</body>
</html>
